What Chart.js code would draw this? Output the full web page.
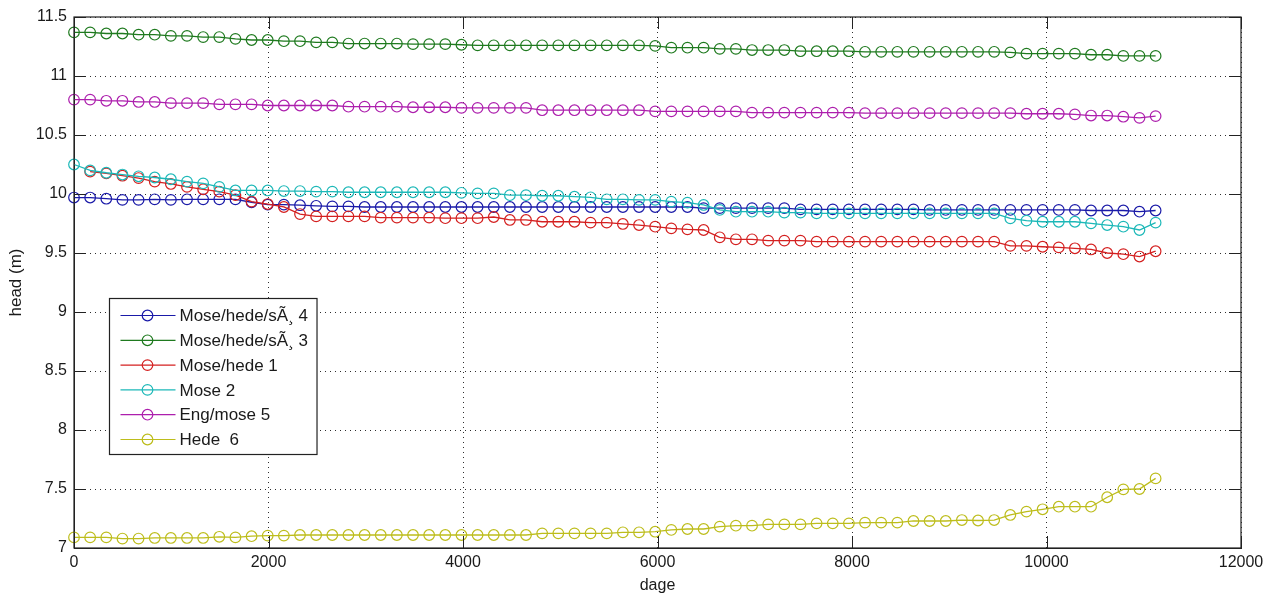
<!DOCTYPE html>
<html>
<head>
<meta charset="utf-8">
<script src="https://cdn.jsdelivr.net/npm/chart.js@4.4.1/dist/chart.umd.min.js"></script>
<style>
  body { margin: 0; background: #fff; }
  #wrap { width: 1276px; height: 596px; }
</style>
</head>
<body>
<div id="wrap"><canvas id="myChart" width="1276" height="596"></canvas></div>
<script>
// days (x) for every sample
var days = [0,166,332,498,664,830,996,1162,1328,1494,1660,1826,1992,2158,2324,2490,2656,2822,2988,3154,
  3320,3486,3652,3818,3984,4150,4316,4482,4648,4814,4980,5146,5312,5478,5644,5810,5976,6142,6308,6474,
  6640,6806,6972,7138,7304,7470,7636,7802,7968,8134,8300,8466,8632,8798,8964,9130,9296,9462,9628,9794,
  9960,10126,10292,10458,10624,10790,10956,11122];

var headMhs4 = [9.97,9.97,9.96,9.95,9.95,9.955,9.95,9.955,9.955,9.955,
  9.955,9.93,9.91,9.91,9.905,9.90,9.895,9.895,9.89,9.89,
  9.89,9.89,9.89,9.89,9.89,9.89,9.89,9.89,9.89,9.89,
  9.89,9.89,9.89,9.89,9.89,9.89,9.89,9.89,9.89,9.88,
  9.88,9.88,9.88,9.88,9.88,9.87,9.87,9.87,9.87,9.87,
  9.87,9.87,9.87,9.865,9.865,9.865,9.865,9.865,9.865,9.865,
  9.865,9.865,9.865,9.86,9.86,9.86,9.85,9.86];

var headMhs3 = [11.37,11.37,11.36,11.36,11.35,11.35,11.34,11.34,11.33,11.33,
  11.315,11.305,11.305,11.295,11.295,11.285,11.285,11.275,11.275,11.275,
  11.275,11.27,11.27,11.27,11.265,11.26,11.26,11.26,11.26,11.26,
  11.26,11.26,11.26,11.26,11.26,11.26,11.255,11.24,11.24,11.24,
  11.23,11.23,11.22,11.22,11.22,11.21,11.21,11.21,11.21,11.205,
  11.205,11.205,11.205,11.205,11.205,11.205,11.205,11.205,11.2,11.19,
  11.19,11.19,11.19,11.18,11.18,11.17,11.17,11.17];

var headMh1 = [null,10.19,10.175,10.155,10.135,10.105,10.085,10.06,10.04,10.02,
  9.99,9.935,9.915,9.89,9.83,9.81,9.81,9.81,9.81,9.80,
  9.80,9.80,9.80,9.795,9.795,9.795,9.805,9.78,9.78,9.765,
  9.765,9.765,9.757,9.757,9.746,9.737,9.723,9.709,9.70,9.695,
  9.633,9.616,9.616,9.605,9.605,9.605,9.596,9.596,9.596,9.596,
  9.596,9.596,9.596,9.596,9.596,9.596,9.596,9.596,9.56,9.56,
  9.553,9.548,9.54,9.53,9.50,9.49,9.47,9.515];

var headMose2 = [10.25,10.20,10.18,10.165,10.15,10.14,10.125,10.105,10.09,10.06,
  10.03,10.03,10.03,10.025,10.025,10.02,10.02,10.015,10.015,10.015,
  10.015,10.015,10.015,10.015,10.01,10.005,10.005,9.99,9.99,9.985,
  9.985,9.977,9.972,9.955,9.955,9.95,9.95,9.935,9.927,9.907,
  9.865,9.85,9.85,9.85,9.842,9.842,9.836,9.836,9.836,9.836,
  9.836,9.836,9.836,9.836,9.836,9.836,9.836,9.836,9.794,9.774,
  9.765,9.765,9.765,9.751,9.737,9.723,9.695,9.757];

var headEng5 = [10.80,10.80,10.79,10.79,10.78,10.78,10.77,10.77,10.77,10.76,
  10.76,10.76,10.75,10.75,10.75,10.75,10.75,10.74,10.74,10.74,
  10.74,10.735,10.735,10.735,10.73,10.73,10.73,10.73,10.73,10.71,
  10.71,10.71,10.71,10.71,10.71,10.71,10.70,10.70,10.70,10.70,
  10.70,10.70,10.69,10.69,10.69,10.69,10.69,10.69,10.69,10.685,
  10.685,10.685,10.685,10.685,10.685,10.685,10.685,10.685,10.685,10.68,
  10.68,10.68,10.675,10.665,10.665,10.655,10.645,10.66];

var headHede6 = [7.09,7.09,7.09,7.08,7.08,7.085,7.085,7.085,7.085,7.095,
  7.09,7.10,7.105,7.105,7.11,7.11,7.11,7.11,7.11,7.11,
  7.11,7.11,7.11,7.11,7.11,7.11,7.11,7.11,7.11,7.124,
  7.124,7.124,7.124,7.124,7.133,7.133,7.138,7.153,7.161,7.161,
  7.181,7.189,7.189,7.20,7.20,7.20,7.209,7.209,7.209,7.215,
  7.215,7.215,7.229,7.229,7.229,7.237,7.233,7.237,7.28,7.308,
  7.328,7.35,7.35,7.35,7.43,7.497,7.50,7.59];

var seriesNames = ['Mose/hede/s\u00C3\u00B8 4', 'Mose/hede/s\u00C3\u00B8 3', 'Mose/hede 1', 'Mose 2', 'Eng/mose 5', 'Hede  6'];
var seriesColors = ['#1a1aa8', '#1f7a1f', '#d42020', '#1cb8b8', '#ad1fad', '#bdbd1c'];
var seriesValues = [headMhs4, headMhs3, headMh1, headMose2, headEng5, headHede6];

var xTicks = [0, 2000, 4000, 6000, 8000, 10000, 12000];
var yTicks = [7, 7.5, 8, 8.5, 9, 9.5, 10, 10.5, 11, 11.5];

var fontFam = "'Liberation Sans', Arial, Helvetica, sans-serif";
var ink = '#1a1a1a';

function toPoints(vals) {
  var pts = [];
  vals.forEach(function (v, i) {
    if (v !== null) pts.push({ x: days[i], y: v });
  });
  return pts;
}

var datasets = seriesNames.map(function (name, i) {
  return {
    label: name,
    data: toPoints(seriesValues[i]),
    showLine: true,
    borderColor: seriesColors[i],
    borderWidth: 1.3,
    pointStyle: 'circle',
    pointRadius: 5.3,
    pointHoverRadius: 5.3,
    pointBorderWidth: 1.2,
    pointBorderColor: seriesColors[i],
    pointBackgroundColor: 'rgba(0,0,0,0)',
    clip: false,
    order: seriesNames.length - i
  };
});

// box, inward ticks and the legend drawn matlab-style
var matlabFrame = {
  id: 'matlabFrame',
  afterDatasetsDraw: function (chart) {
    var ctx = chart.ctx, a = chart.chartArea;
    var xs = chart.scales.x, ys = chart.scales.y;
    ctx.save();
    ctx.strokeStyle = '#222';
    ctx.lineWidth = 1.2;
    ctx.strokeRect(a.left, a.top, a.right - a.left, a.bottom - a.top);

    ctx.lineWidth = 1;
    ctx.beginPath();
    xTicks.forEach(function (v) {
      var px = Math.round(xs.getPixelForValue(v)) + 0.5;
      ctx.moveTo(px, a.bottom); ctx.lineTo(px, a.bottom - 12);
      ctx.moveTo(px, a.top); ctx.lineTo(px, a.top + 12);
    });
    yTicks.forEach(function (v) {
      var py = Math.round(ys.getPixelForValue(v)) + 0.5;
      ctx.moveTo(a.left, py); ctx.lineTo(a.left + 12, py);
      ctx.moveTo(a.right, py); ctx.lineTo(a.right - 12, py);
    });
    ctx.stroke();

    // legend
    var ds = chart.data.datasets;
    ctx.font = '17px ' + fontFam;
    var maxW = 0;
    ds.forEach(function (d) { maxW = Math.max(maxW, ctx.measureText(d.label).width); });
    var bx = a.left + 35.5, by = a.top + 281.5;
    var bw = 70 + maxW + 9, bh = 156;
    ctx.fillStyle = '#fff';
    ctx.fillRect(bx, by, bw, bh);
    ctx.strokeStyle = '#222';
    ctx.lineWidth = 1.2;
    ctx.strokeRect(bx, by, bw, bh);
    ds.forEach(function (d, i) {
      var cy = by + 17 + i * 24.8;
      ctx.strokeStyle = d.borderColor;
      ctx.lineWidth = 1.2;
      ctx.beginPath();
      ctx.moveTo(bx + 11, cy); ctx.lineTo(bx + 66, cy);
      ctx.stroke();
      ctx.beginPath();
      ctx.arc(bx + 38, cy, 5.3, 0, Math.PI * 2);
      ctx.stroke();
      ctx.fillStyle = ink;
      ctx.textBaseline = 'middle';
      ctx.textAlign = 'left';
      ctx.fillText(d.label, bx + 70, cy + 1);
    });
    ctx.restore();
  }
};

var area = document.getElementById('myChart');
new Chart(area, {
  type: 'scatter',
  data: { datasets: datasets },
  options: {
    responsive: false,
    animation: false,
    layout: { padding: { left: 0, top: 17, right: 35, bottom: 0 } },
    plugins: { legend: { display: false }, tooltip: { enabled: false } },
    scales: {
      x: {
        type: 'linear', min: 0, max: 12000,
        afterBuildTicks: function (s) { s.ticks = xTicks.map(function (v) { return { value: v }; }); },
        afterFit: function (s) { s.height = 48; },
        grid: { color: '#2e2e2e', lineWidth: 1, drawTicks: false },
        border: { display: true, color: '#222', width: 1, dash: [1, 4] },
        ticks: {
          color: ink, font: { family: fontFam, size: 16 }, padding: 5,
          autoSkip: false, maxRotation: 0,
          callback: function (v) { return String(v); }
        },
        title: { display: true, text: 'dage', color: ink, font: { family: fontFam, size: 16 }, padding: { top: 0, bottom: 1 } }
      },
      y: {
        type: 'linear', min: 7, max: 11.5,
        afterBuildTicks: function (s) { s.ticks = yTicks.map(function (v) { return { value: v }; }); },
        afterFit: function (s) { s.width = 74; },
        grid: { color: '#2e2e2e', lineWidth: 1, drawTicks: false },
        border: { display: true, color: '#222', width: 1, dash: [1, 4] },
        ticks: {
          color: ink, font: { family: fontFam, size: 16 }, padding: 7,
          autoSkip: false,
          callback: function (v) { return String(v); }
        },
        title: { display: true, text: 'head (m)', color: ink, font: { family: fontFam, size: 17 }, padding: { top: 6, bottom: 0 } }
      }
    }
  },
  plugins: [matlabFrame]
});
</script>
</body>
</html>
